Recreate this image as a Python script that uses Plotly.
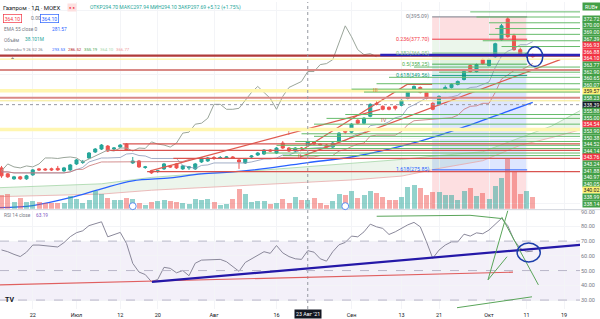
import plotly.graph_objects as go

# ---------------- data ----------------
K = list(range(86))
opens = [277.39,272.75,268.88,270.42,268.88,271.97,276.62,276.5,276.7,277.0,
         275.07,275.84,280.49,281.65,285.14,289.78,292.10,294.43,292.10,293.65,
         295.97,281.26,282.81,277.78,275.07,274.68,276.62,278.94,280.49,276.62,
         277.39,276.62,282.04,282.81,285.5,285.14,285.14,285.91,283.59,281.26,
         285.91,287.46,288.23,291.33,289.01,296.75,292.88,290.56,292.88,294.70,
         297.52,295.97,295.20,293.65,298.30,306.81,305.27,314.56,312.24,317.66,
         327.72,325.40,324.62,325.40,326.17,331.59,337.79,340.11,336.24,327.72,
         326.95,337.01,340.11,342.43,346.30,357.14,352.50,361.79,357.14,364.11,
         377.28,393.54,380.37,369.53,364.89,365.66]
highs = [278.94,273.52,271.20,271.20,271.97,276.62,277.39,277.3,277.6,278.94,
         278.17,280.49,284.36,283.59,289.78,292.88,295.97,295.20,293.65,295.97,
         296.75,285.91,283.59,278.94,275.84,275.84,281.26,279.71,281.26,279.71,
         278.94,281.26,285.91,285.91,286.68,286.68,286.68,286.68,284.36,285.14,
         287.46,289.78,292.10,292.10,293.65,298.30,293.65,293.65,293.65,297.94,
         298.30,296.75,295.97,297.52,305.27,307.59,312.24,315.34,316.89,327.72,
         329.27,326.17,325.40,326.17,330.82,337.01,341.66,340.88,337.01,328.49,
         333.92,341.66,343.21,345.53,353.27,357.92,358.69,362.57,362.57,374.96,
         389.66,395.09,381.92,371.08,367.21,366.44]
lows = [269.65,269.65,268.10,268.10,268.10,271.20,275.07,275.2,275.0,275.07,
        274.29,275.07,279.71,280.49,284.36,289.01,291.33,289.78,291.33,292.88,
        290.56,280.49,277.39,276.62,272.75,273.52,275.84,277.39,276.62,275.84,
        275.84,275.84,281.26,282.04,283.59,284.36,284.36,284.36,276.62,280.49,
        285.14,286.68,287.46,289.78,288.23,292.10,289.78,289.78,291.33,294.10,
        295.20,294.43,292.88,292.88,297.52,303.72,304.49,311.46,311.46,316.89,
        326.17,322.30,322.30,322.30,325.40,330.82,337.01,335.47,330.82,322.30,
        326.17,336.24,339.34,341.66,345.53,351.72,351.72,357.92,356.37,363.34,
        376.50,378.83,368.76,364.89,363.34,363.34]
closes = [271.20,270.42,270.42,268.88,271.20,275.84,275.84,275.9,275.9,275.84,
          277.39,279.71,283.59,282.43,289.01,292.10,295.20,290.56,292.88,295.20,
          291.33,282.81,278.17,278.17,273.52,275.07,280.49,278.17,277.39,278.94,
          278.17,280.49,285.14,285.14,284.75,285.5,285.91,285.14,282.04,284.36,
          286.68,289.01,291.33,290.56,292.88,292.88,290.56,292.88,292.57,297.69,
          295.97,295.20,293.65,296.75,304.49,305.27,311.46,312.24,316.11,326.95,
          326.95,323.08,323.08,323.85,330.04,336.24,340.88,336.24,331.59,323.08,
          333.14,340.11,342.43,344.76,352.50,352.50,357.92,358.69,361.79,374.18,
          388.12,379.60,369.53,365.66,366.44,364.10]
volume_m = [59.2,63.5,29.6,46.5,29.6,33.8,29.6,25.4,25.4,25.4,
            25.4,55.0,42.3,25.4,38.1,76.1,63.5,46.5,38.1,38.1,
            46.5,42.3,25.4,16.9,29.6,33.8,38.1,33.8,29.6,25.4,
            21.2,42.3,38.1,42.3,29.6,16.9,21.2,42.3,84.6,63.5,
            29.6,33.8,33.8,21.2,25.4,42.3,25.4,50.8,38.1,38.1,
            46.5,25.4,16.9,33.8,63.5,59.2,76.1,46.5,59.2,76.1,
            67.7,50.8,38.1,38.1,50.8,93.1,101.5,88.8,59.2,71.9,
            71.9,59.2,59.2,38.1,76.1,88.8,55.0,67.7,42.3,97.3,
            131.1,211.5,156.5,63.5,76.1,50.8]
rsi = [64.0,62.8,61.0,59.5,62.5,67.3,67.3,67.0,66.7,66.0,
       69.0,73.0,75.7,77.0,80.5,82.0,83.1,72.9,74.5,75.9,
       68.4,54.9,49.0,47.3,42.4,44.0,52.2,51.5,48.5,50.0,
       46.5,55.0,57.1,57.1,57.3,57.6,56.0,53.0,49.5,55.5,
       58.0,60.5,62.8,61.7,67.0,62.0,59.5,58.0,57.6,63.5,
       62.5,58.0,56.4,62.8,67.5,69.1,73.4,72.9,76.3,81.5,
       79.7,78.6,74.5,76.3,78.6,81.0,82.7,79.7,69.5,58.3,
       63.9,67.3,69.5,69.5,74.7,73.4,75.6,75.0,77.5,81.5,
       85.4,80.5,70.7,65.1,62.8,63.19]
ema_k = [-0.24,5,11,16,21,27,32,37,43,49,56,67,73,81,85]
ema_v = [246.4,247.96,254.2,261.1,267.3,269.6,272.75,274.3,277.4,281.57,285.9,298.3,307.6,321.5,328.5]
span_k = [-0.24,16,24,32,40,48,56,64,70,77,83,88,92.56]
span_a = [262.0,265.0,270.0,273.0,275.0,278.0,281.0,284.0,287.0,290.0,301.0,310.0,322.0]
span_b = [255.0,257.0,260.0,262.0,264.0,266.0,268.0,271.0,277.0,283.0,295.0,301.0,307.0]

tick_k = [5,12,19,25,34,44,56,64,70,78,84,90]
tick_t = ["22","Июл","12","20","Авг","16","Сен","13","21","Окт","11","19"]

fib_ratio = [0,0.236,0.382,0.5,0.618,1.618,2.618]
fib_high = 395.09
fib_range = 73.69
fib_col = ["#787b86","#f23645","#81c784","#4caf50","#089981","#2962ff","#f23645"]
fib_k0, fib_k1 = 68.9, 84.1

axis_labels = ["372.72","370.00","369.00","367.39","366.93","366.88","364.10","363.77","362.90",
               "360.65","360.07","359.57","358.23","338.39","355.88","355.00","354.54","353.90",
               "350.38","344.52","344.14","343.76","343.24","341.88","340.97","340.05","340.02",
               "338.99","338.14"]
axis_kind = ["g","g","g","g","r","r","r","g","g","g","g","y","g","k","g","g","r","g",
             "g","g","g","r","g","g","g","g","y","g","g"]

# horizontal levels: (start k, price, colour, width)
hlevels = [
    (-0.24, 364.9, "#b03a3a", 2.2),
    (-0.24, 362.2, "#fff3a0", 1.2),
    (-0.24, 353.7, "#d98a86", 2.2),
    (-0.24, 337.6, "#fff6b0", 3.5),
    (-0.24, 332.0, "#d98a86", 2.0),
    (-0.24, 329.7, "#f5e98a", 1.0),
    (-0.24, 307.4, "#fff6b0", 3.5),
    (19.4, 296.2, "#d9534f", 1.3),
    (17.4, 291.1, "#d9534f", 1.3),
    (27.5, 284.9, "#d9534f", 1.3),
    (23.3, 274.5, "#d9534f", 1.3),
    (60.6, 365.4, "#2c22b8", 2.5),
]
green_levels = [(75, 399.0), (76, 395.0), (78, 390.5), (79, 386.0), (78, 381.5), (77, 376.5),
                (80, 372.0), (66, 356.0), (70, 352.0), (62, 348.0), (60, 343.0), (56, 338.8),
                (58, 336.5), (55, 319.0), (52, 316.0), (50, 311.5), (48, 304.0), (50, 302.0),
                (47, 298.0), (44, 295.0), (46, 292.5), (42, 289.0), (45, 287.0)]
trend_red = [
    ([47.8, 64.9, 68.9], [290.56, 342.43, 342.43]),
    ([47.8, 89.4], [286.0, 361.8]),
    ([23.8, 60.6], [275.07, 323.0]),
]

XMIN, XMAX = -0.24, 92.56
YMIN, YMAX = 245.65, 406.70
RMIN, RMAX = 23.93, 90.67

up_c, dn_c = "#26a69a", "#ef5350"
dirs = [c >= o for o, c in zip(opens, closes)]


def mid(i, n):
    lo = max(0, i - n + 1)
    return (max(highs[lo:i + 1]) + min(lows[lo:i + 1])) / 2


tenkan = [mid(i, 9) for i in K]
kijun = [mid(i, 26) for i in K]

fig = go.Figure()

fig.add_trace(go.Scatter(x=span_k, y=span_b, mode="lines", line=dict(color="#e8a9a9", width=0.8),
                         hoverinfo="skip", showlegend=False))
fig.add_trace(go.Scatter(x=span_k, y=span_a, mode="lines", line=dict(color="#a5d6a7", width=0.8),
                         fill="tonexty", fillcolor="rgba(67,160,71,0.10)", hoverinfo="skip", showlegend=False))

fig.add_trace(go.Bar(x=K, y=volume_m, yaxis="y3",
                     marker=dict(color=["rgba(38,166,154,0.5)" if d else "rgba(239,83,80,0.5)" for d in dirs],
                                 line=dict(width=0)),
                     width=0.8, showlegend=False, hoverinfo="skip"))

fig.add_trace(go.Scatter(x=ema_k, y=ema_v, mode="lines", line=dict(color="#2962ff", width=1.3, shape="spline"),
                         showlegend=False, hoverinfo="skip"))
fig.add_trace(go.Scatter(x=K, y=tenkan, mode="lines", line=dict(color="#8a98b8", width=0.8),
                         showlegend=False, hoverinfo="skip"))
fig.add_trace(go.Scatter(x=K, y=kijun, mode="lines", line=dict(color="#c97474", width=0.8),
                         showlegend=False, hoverinfo="skip"))
fig.add_trace(go.Scatter(x=[k - 25 for k in K[25:]], y=closes[25:], mode="lines",
                         line=dict(color="#9aa59a", width=1), showlegend=False, hoverinfo="skip"))
for tx, ty in trend_red:
    fig.add_trace(go.Scatter(x=tx, y=ty, mode="lines", line=dict(color="#e05a4f", width=1.2),
                             showlegend=False, hoverinfo="skip"))

fig.add_trace(go.Candlestick(x=K, open=opens, high=highs, low=lows, close=closes,
                             increasing=dict(line=dict(color=up_c, width=1), fillcolor=up_c),
                             decreasing=dict(line=dict(color=dn_c, width=1), fillcolor=dn_c),
                             whiskerwidth=0, showlegend=False, hoverinfo="skip"))

fig.add_trace(go.Scatter(x=K, y=rsi, xaxis="x2", yaxis="y2", mode="lines",
                         line=dict(color="#8a889a", width=1), showlegend=False, hoverinfo="skip"))

shapes = []
for i in range(len(fib_ratio) - 1):
    ya = fib_high - fib_ratio[i] * fib_range
    yb = fib_high - fib_ratio[i + 1] * fib_range
    shapes.append(dict(type="rect", xref="x", yref="y", x0=fib_k0, x1=fib_k1, y0=yb, y1=ya,
                       fillcolor=fib_col[i + 1], opacity=0.16, line=dict(width=0), layer="below"))
for r, c in zip(fib_ratio[:-1], fib_col[:-1]):
    yv = fib_high - r * fib_range
    shapes.append(dict(type="line", xref="x", yref="y", x0=fib_k0, x1=fib_k1, y0=yv, y1=yv,
                       line=dict(color=c, width=1)))
for s, p, c, w in hlevels:
    shapes.append(dict(type="line", xref="x", yref="y", x0=s, x1=XMAX, y0=p, y1=p,
                       line=dict(color=c, width=w)))
for s, p in green_levels:
    shapes.append(dict(type="line", xref="x", yref="y", x0=s, x1=XMAX, y0=p, y1=p,
                       line=dict(color="#66bb6a", width=1)))
shapes.append(dict(type="line", xref="x", yref="y", x0=XMIN, x1=XMAX, y0=326.7, y1=326.7,
                   line=dict(color="#9598a1", width=1, dash="dot")))
shapes.append(dict(type="line", xref="x", yref="paper", x0=49, x1=49, y0=0, y1=1,
                   line=dict(color="#9598a1", width=1, dash="dot")))
shapes.append(dict(type="line", xref="paper", yref="paper", x0=0, x1=1.035, y0=0.3236, y1=0.3236,
                   line=dict(color="#d1d4dc", width=1)))
shapes.append(dict(type="rect", xref="x2", yref="y2", x0=XMIN, x1=XMAX, y0=30, y1=70,
                   fillcolor="rgba(126,87,194,0.09)", line=dict(width=0), layer="below"))
for lv in (70, 50, 30):
    shapes.append(dict(type="line", xref="x2", yref="y2", x0=XMIN, x1=XMAX, y0=lv, y1=lv,
                       line=dict(color="#b8b5c8", width=1, dash="dash")))
shapes.append(dict(type="line", xref="x2", yref="y2", x0=-0.24, x1=81.84, y0=40.33, y1=48.9,
                   line=dict(color="#e06060", width=1.2)))
shapes.append(dict(type="line", xref="x2", yref="y2", x0=24.08, x1=95.76, y0=42.35, y1=68.65,
                   line=dict(color="#2418a8", width=2.2)))
for (a, b, c, d) in [(60.03, 86.86, 74.96, 87.5), (74.96, 87.5, 80.03, 85.3), (80.03, 86.4, 85.9, 40.3),
                     (77.84, 43.7, 81.3, 95.0), (77.84, 43.7, 80.88, 59.4), (72.88, 24.8, 84.88, 32.2)]:
    shapes.append(dict(type="line", xref="x2", yref="y2", x0=a, x1=c, y0=b, y1=d,
                       line=dict(color="#5aa55a", width=1)))
shapes.append(dict(type="circle", xref="x2", yref="y2", x0=82.5, x1=86.2, y0=55.84, y1=68.65,
                   line=dict(color="#1c3faa", width=1.5)))
shapes.append(dict(type="circle", xref="x", yref="y", x0=84.1, x1=86.6, y0=356.4, y1=371.8,
                   line=dict(color="#1c3faa", width=1.5)))
for ek in (21, 55):
    shapes.append(dict(type="circle", xref="x", yref="paper", x0=ek - 0.55, x1=ek + 0.55,
                       y0=1 - 209 / 309, y1=1 - 202 / 309, fillcolor="#ffffff",
                       line=dict(color="#5b8def", width=1)))

ann = []
fib_txt = ["0(395.09)", "0.236(377.70)", "0.382(366.95)", "0.5(358.25)", "0.618(349.56)", "1.618(275.85)"]
for r, c, t in zip(fib_ratio[:-1], fib_col[:-1], fib_txt):
    ann.append(dict(x=fib_k0 - 0.2, y=fib_high - r * fib_range, xref="x", yref="y", text=t,
                    showarrow=False, xanchor="right", yanchor="middle",
                    font=dict(size=5.3, color=c, family="Roboto")))

PLOT_H = 309.0
for i, (t, kd) in enumerate(zip(axis_labels, axis_kind)):
    ypx = 17 + i * 6.64
    bg = {"g": "#43a047", "r": "#f23645", "y": "#fff176", "k": "#131722"}[kd]
    fc = "#131722" if kd == "y" else "#ffffff"
    ann.append(dict(x=591 / 580, y=1 - ypx / PLOT_H, xref="paper", yref="paper", text=t, showarrow=False,
                    xanchor="center", yanchor="middle", bgcolor=bg, width=17, height=5.6, borderpad=0,
                    font=dict(size=5.2, color=fc, family="Roboto")))
ann.append(dict(x=591 / 580, y=1 - 5 / PLOT_H, xref="paper", yref="paper", text="RUB▾", showarrow=False,
                xanchor="center", yanchor="middle", bgcolor="#43a047", width=17, height=7, borderpad=0,
                font=dict(size=5.2, color="#ffffff", family="Roboto")))


def txt(x, y, t, size=5.0, color="#787b86", anchor="left", **kw):
    ann.append(dict(x=x / 580, y=1 - y / PLOT_H, xref="paper", yref="paper", text=t, showarrow=False,
                    xanchor=anchor, yanchor="middle", font=dict(size=size, color=color, family="Roboto"), **kw))


txt(1, 6, "Газпром · 1Д · MOEX", size=6.0, color="#131722")
txt(67, 6, "● ●", size=4, color="#f23645", bgcolor="#fde0e0")
txt(88, 6, "ОТКР294.70 МАКС297.94 МИН294.10 ЗАКР297.69 +5.12 (+1.75%)", size=5, color="#26a69a")
txt(3, 16.5, "364.10", size=5, color="#f23645", bordercolor="#f23645", borderwidth=0.7, borderpad=1)
txt(29, 16.5, "0.00", size=5, color="#787b86")
txt(40, 16.5, "364.10", size=5, color="#2962ff", bordercolor="#2962ff", borderwidth=0.7, borderpad=1)
txt(2, 28, "EMA 55 close 0", size=4.8)
txt(50, 28, "281.57", size=4.8, color="#2962ff")
txt(2, 38, "Объём", size=4.8)
txt(23, 38, "38.101M", size=4.8, color="#26a69a")
txt(2, 48, "Ichimoku 9 26 52 26", size=4.3)
txt(50, 48, "293.53", size=4.3, color="#2962ff")
txt(66, 48, "286.52", size=4.3, color="#b71c1c")
txt(82, 48, "355.19", size=4.3, color="#43a047")
txt(98, 48, "364.10", size=4.3, color="#a5d6a7")
txt(114, 48, "366.77", size=4.3, color="#ef9a9a")
txt(8, 58, "⌃", size=6, color="#131722")
txt(2, 215, "RSI 14 close", size=4.8)
txt(34, 215, "63.19", size=4.8, color="#7e57c2")
txt(3, 300, "<b>TV</b>", size=7, color="#131722")
txt(286, 131, "I", size=6, color="#d9534f")
txt(296, 155, "II", size=6, color="#d9534f")
txt(371, 88, "III", size=6, color="#e0823a")
txt(379, 118, "IV", size=6, color="#c0605a")
ann.append(dict(x=49, y=0, xref="x2", yref="paper", text="23 Авг '21", showarrow=False, yshift=-5,
                xanchor="center", yanchor="middle", bgcolor="#131722", borderpad=1,
                font=dict(size=5.3, color="#ffffff", family="Roboto")))

fig.update_layout(
    width=600, height=319, margin=dict(l=0, r=20, t=0, b=10),
    paper_bgcolor="#ffffff", plot_bgcolor="#ffffff", showlegend=False,
    shapes=shapes, annotations=ann, bargap=0,
    xaxis=dict(range=[XMIN, XMAX], anchor="y", showticklabels=False, showgrid=True, gridcolor="#f3f4f7",
               tickvals=tick_k, zeroline=False, rangeslider=dict(visible=False), fixedrange=True),
    xaxis2=dict(range=[XMIN, XMAX], anchor="y2", tickvals=tick_k, ticktext=tick_t, showgrid=True,
                gridcolor="#f3f4f7", zeroline=False, tickfont=dict(size=5.5, color="#131722", family="Roboto"),
                ticks="", ticklabelstandoff=1),
    yaxis=dict(domain=[0.3269, 1], range=[YMIN, YMAX], side="right", showticklabels=False,
               showgrid=True, gridcolor="#f3f4f7", zeroline=False),
    yaxis3=dict(domain=[0.3269, 1], range=[0, 880], overlaying="y", visible=False),
    yaxis2=dict(domain=[0, 0.3204], range=[RMIN, RMAX], side="right", tickvals=[30, 40, 50, 60, 70, 80, 90],
                ticktext=["30.00", "40.00", "50.00", "60.00", "70.00", "80.00", "90.00"],
                tickfont=dict(size=5.5, color="#787b86", family="Roboto"), showgrid=True,
                gridcolor="#f3f4f7", zeroline=False, ticks=""),
)
fig.write_html("out.html")
